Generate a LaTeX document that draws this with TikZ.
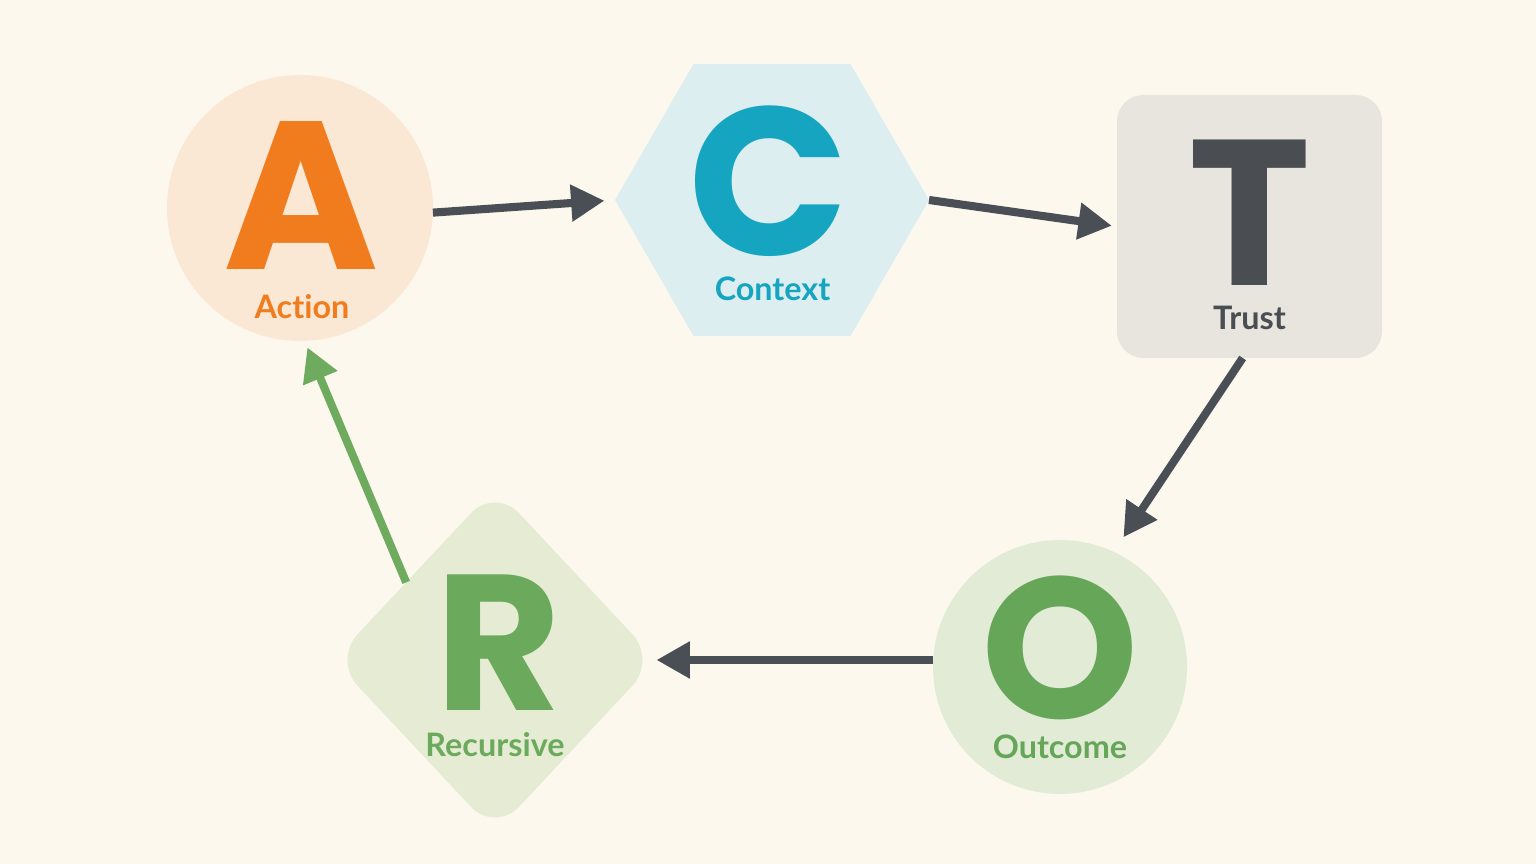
\documentclass[tikz,border=0pt]{standalone}
\usepackage{fontspec}
\setmainfont{Poppins}
\newfontfamily\namefont[Ligatures={NoCommon}]{Lato}
\usetikzlibrary{arrows.meta, calc, shapes.geometric}
\definecolor{bgcream}{RGB}{252,248,238}
\definecolor{actorange}{RGB}{240,124,30}
\definecolor{actfill}{RGB}{251,232,212}
\definecolor{ctxblue}{RGB}{22,165,193}
\definecolor{ctxfill}{RGB}{220,238,240}
\definecolor{trgray}{RGB}{74,77,81}
\definecolor{trfill}{RGB}{232,229,223}
\definecolor{outgreen}{RGB}{102,166,89}
\definecolor{outfill}{RGB}{226,235,214}
\definecolor{recgreen}{RGB}{107,170,92}
\definecolor{recfill}{RGB}{229,236,211}
\definecolor{arrgray}{RGB}{74,78,85}
\definecolor{arrgreen}{RGB}{111,171,95}

\begin{document}
\begin{tikzpicture}[
    shp/.style    = {inner sep=0pt, outer sep=0pt, draw=none},
    letter/.style = {inner sep=0pt, font=\fontsize{60}{60}\selectfont\bfseries},
    lbl/.style    = {inner sep=0pt, font=\namefont\fontsize{9.2}{10}\selectfont\bfseries},
    arr/.style    = {-{Triangle[length=9.5pt, width=10pt]}, line width=2.3pt, arrgray},
]
\path[fill=bgcream, use as bounding box] (0,0) rectangle (15.36,8.64);

% ---- the five stations -------------------------------------------------------
\node[shp, circle, fill=actfill, minimum size=2.66cm] (A) at (3.00,6.56) {};
\node[shp, regular polygon, regular polygon sides=6, fill=ctxfill,
      minimum size=3.14cm] (C) at (7.72,6.64) {};
\node[shp, rectangle, rounded corners=7.5pt, fill=trfill,
      minimum width=2.65cm, minimum height=2.63cm] (T) at (12.495,6.375) {};
\node[shp, circle, fill=outfill, minimum size=2.54cm] (O) at (10.60,1.97) {};
\node[shp, diamond, rounded corners=10pt, fill=recfill,
      minimum width=3.23cm, minimum height=3.45cm] (R) at (4.95,2.04) {};

% ---- big letters and names ---------------------------------------------------
\node[letter, text=actorange] (Aletter) at ($(A)+(0.01,0.125)$) {A};
\node[lbl, text=actorange] (Alabel) at ($(A)+(0.02,-0.985)$) {Action};

\node[letter, text=ctxblue] (Cletter) at ($(C)+(-0.03,0.185)$) {C};
\node[lbl, text=ctxblue] (Clabel) at ($(C)+(0.005,-0.89)$) {Context};

\node[letter, text=trgray, font=\fontsize{59}{59}\selectfont\bfseries] (Tletter) at ($(T)+(0.005,0.14)$) {T};
\node[lbl, text=trgray] (Tlabel) at ($(T)+(0,-0.91)$) {Trust};

\node[letter, text=outgreen, font=\fontsize{57}{57}\selectfont\bfseries] (Oletter) at ($(O)+(0,0.195)$) {O};
\node[lbl, text=outgreen] (Olabel) at ($(O)+(0,-0.795)$) {Outcome};

\node[letter, text=recgreen, font=\fontsize{55}{55}\selectfont\bfseries] (Rletter) at ($(R)+(0.04,0.175)$) {R};
\node[lbl, text=recgreen] (Rlabel) at ($(R)+(0,-0.85)$) {Recursive};

% ---- the cycle ---------------------------------------------------------------
\draw[arr, shorten >=3pt] (A.-2) -- (C.west);
\draw[arr, shorten >=1.5pt] (C.east) -- (T.west);
\draw[arr, shorten >=5pt] (T.-93) -- (O.65);
\draw[arr] (O.west |- R.east) -- (R.east);
\draw[arr, arrgreen, shorten >=2pt] ($(R.north)!0.55!(R.west)$) -- (A.-88);
\end{tikzpicture}
\end{document}
